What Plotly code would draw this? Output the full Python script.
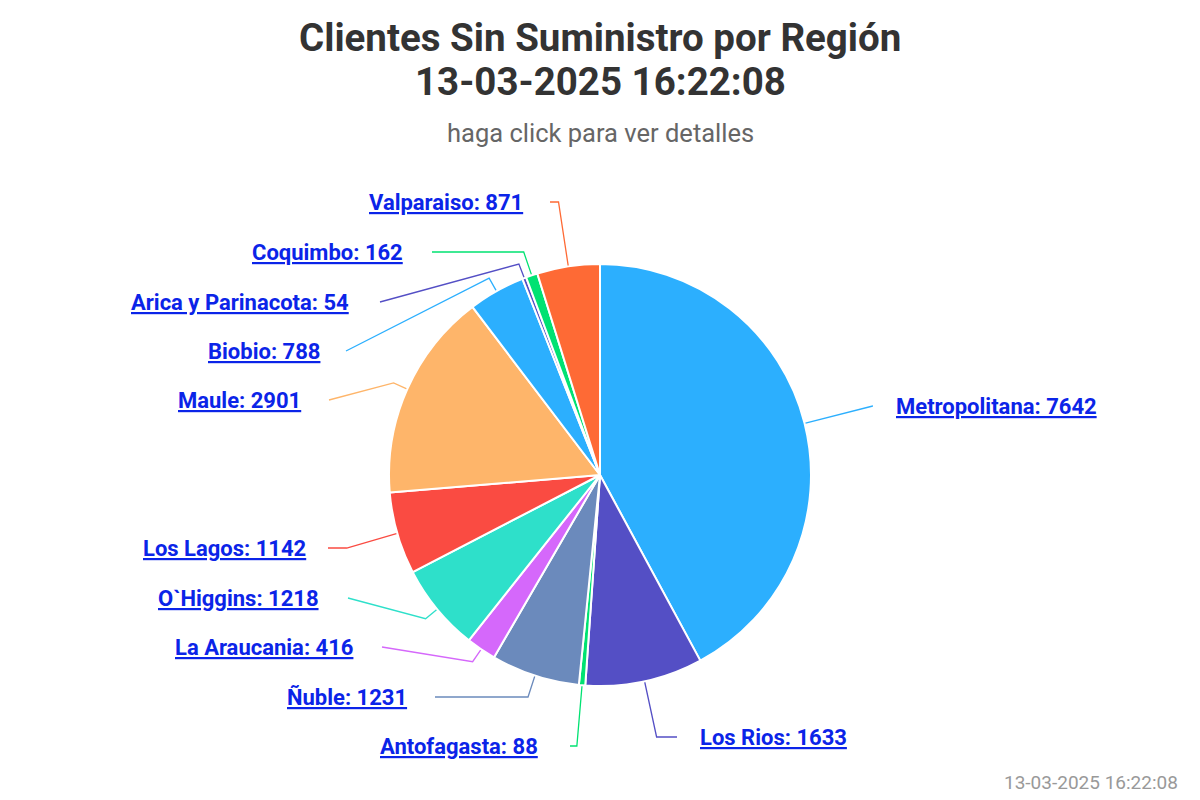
import math

import plotly.graph_objects as go

# datos
REGIONES = [
    "Metropolitana", "Los Rios", "Antofagasta", "Ñuble", "La Araucania", "O`Higgins",
    "Los Lagos", "Maule", "Biobio", "Arica y Parinacota", "Coquimbo", "Valparaiso",
]
CLIENTES = [7642, 1633, 88, 1231, 416, 1218, 1142, 2901, 788, 54, 162, 871]
COLORES = [
    "#2caffe", "#544fc5", "#00e272", "#6b8abc", "#d568fb", "#2ee0ca",
    "#fa4b42", "#feb56a", "#2caffe", "#544fc5", "#00e272", "#fe6a35",
]
FECHA = "13-03-2025 16:22:08"

# posiciones de las etiquetas (px, origen arriba-izquierda)
LABEL_Y = [406, 737, 746, 697, 647, 598, 548, 400, 351, 302, 252, 202]
CONN_X = [872, 677, 570, 435, 382, 348, 328, 329, 346, 380, 432, 550]
TEXT_X = [894, 698, 540, 409, 355, 321, 308, 303, 322, 351, 405, 525]

W, H = 1200, 800
CX, CY, R = 600, 475, 211
_LINK = "#0b24e8"
_FONT = "Roboto, sans-serif"

fig = go.Figure()
fig.add_trace(go.Pie(
    labels=REGIONES,
    values=CLIENTES,
    sort=False,
    direction="clockwise",
    rotation=0,
    textinfo="none",
    marker={"colors": COLORES, "line": {"color": "white", "width": 2}},
    domain={"x": [(CX - R) / W, (CX + R) / W], "y": [(H - CY - R) / H, (H - CY + R) / H]},
    hovertemplate="%{label}: %{value}<extra></extra>",
    showlegend=False,
))

total = sum(CLIENTES)
acc = 0
annotations = []
for i, (name, val, color) in enumerate(zip(REGIONES, CLIENTES, COLORES)):
    mid = 2 * math.pi * (acc + val / 2) / total
    acc += val
    sx, sy = math.sin(mid), -math.cos(mid)
    ly = LABEL_Y[i]
    edge = (CX + R * sx, CY + R * sy)
    t = (ly - CY) / sy if abs(sy) > 1e-6 else 0
    if t >= R + 10:
        bend = (CX + t * sx, ly)
    else:
        bend = (CX + (R + 15) * sx, CY + (R + 15) * sy)
    fig.add_trace(go.Scatter(
        x=[CONN_X[i], bend[0], edge[0]],
        y=[ly, bend[1], edge[1]],
        mode="lines",
        line={"color": color, "width": 1.3},
        hoverinfo="skip",
        showlegend=False,
    ))
    annotations.append({
        "x": TEXT_X[i], "y": ly, "xref": "x", "yref": "y",
        "xanchor": "left" if sx > 0 else "right", "yanchor": "middle",
        "text": f"<b>{name}: {val}</b>",
        "showarrow": False,
        "font": {"family": _FONT, "size": 22, "color": _LINK, "lineposition": "under"},
    })

annotations += [
    {"x": 600, "y": 37, "text": "<b>Clientes Sin Suministro por Región</b>",
     "font": {"family": _FONT, "size": 38.5, "color": "#333333"}},
    {"x": 600, "y": 81, "text": f"<b>{FECHA}</b>",
     "font": {"family": _FONT, "size": 38.5, "color": "#333333"}},
    {"x": 600, "y": 133, "text": "haga click para ver detalles",
     "font": {"family": _FONT, "size": 25.5, "color": "#666666"}},
    {"x": 1180, "y": 782, "text": FECHA, "xanchor": "right",
     "font": {"family": _FONT, "size": 19, "color": "#999999"}},
]
for a in annotations[-4:]:
    a.update({"xref": "x", "yref": "y", "showarrow": False, "yanchor": "middle"})
    a.setdefault("xanchor", "center")

fig.update_layout(
    width=W,
    height=H,
    margin={"l": 0, "r": 0, "t": 0, "b": 0},
    annotations=annotations,
    font={"family": _FONT},
    plot_bgcolor="white",
    paper_bgcolor="white",
)
fig.update_xaxes(range=[0, W], visible=False, fixedrange=True)
fig.update_yaxes(range=[H, 0], visible=False, fixedrange=True)

fig.write_html(
    "out.html",
    config={"displayModeBar": False},
    post_script="document.body.style.margin = '0';",
)
